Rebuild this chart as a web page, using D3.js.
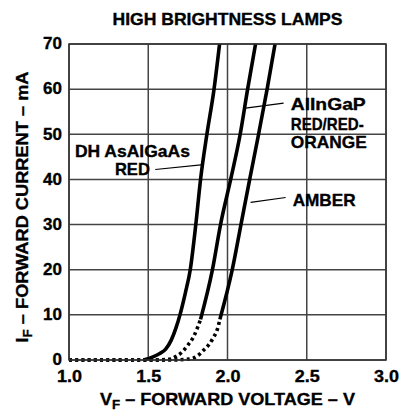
<!DOCTYPE html>
<html>
<head>
<meta charset="utf-8">
<script src="https://cdn.jsdelivr.net/npm/d3@7"></script>
<style>
  body { margin: 0; background: #fff; }
  text { font-family: "Liberation Sans", Arial, sans-serif; font-weight: bold; fill: #000; stroke: #000; stroke-width: 0.35px; }
</style>
</head>
<body>
<div id="chart"></div>
<script>
// axis ticks
const xTicks = [1.0, 1.5, 2.0, 2.5, 3.0];
const yTicks = [0, 10, 20, 30, 40, 50, 60, 70];

// DH AsAlGaAs red (solid all the way)
const redV = [1.47, 1.53, 1.57, 1.61, 1.645, 1.675, 1.70, 1.735, 1.765, 1.80, 1.83, 1.87, 1.915, 1.95];
const redI = [0, 0.7, 1.4, 2.4, 4.4, 7.1, 10, 15, 20, 30, 40, 50, 60, 70];

// AlInGaP red/red-orange: dotted low part, solid upper part
const ainLowV = [1.0, 1.55, 1.64, 1.68, 1.715, 1.75, 1.785, 1.81, 1.83];
const ainLowI = [0, 0, 0.2, 0.9, 1.8, 3.3, 5.1, 7.1, 9];
const ainHighV = [1.83, 1.905, 1.956, 2.02, 2.08, 2.127, 2.177];
const ainHighI = [9, 20, 30, 40, 50, 60, 70];

// AlInGaP amber
const ambLowV = [1.0, 1.65, 1.755, 1.81, 1.85, 1.88, 1.91, 1.935, 1.952];
const ambLowI = [0, 0, 0.2, 0.9, 2.2, 3.3, 4.9, 6.7, 9];
const ambHighV = [1.952, 2.03, 2.085, 2.14, 2.196, 2.25, 2.30];
const ambHighI = [9, 20, 30, 40, 50, 60, 70];

// curve labels, anchored in data units
const labelText = ['DH AsAlGaAs', 'RED', 'AlInGaP', 'RED/RED-', 'ORANGE', 'AMBER'];
const labelV = [1.40, 1.40, 2.399, 2.399, 2.399, 2.411];
const labelI = [45.0, 40.9, 55.3, 51.0, 47.0, 34.1];
const labelAnchor = ['middle', 'middle', 'start', 'start', 'start', 'start'];
const labelLen = [115, 35, 75, 73, 76, 63];

// leader lines [v1, i1, v2, i2]
const leaders = [
    [1.544, 42.2, 1.848, 43.3],
    [2.114, 55.8, 2.354, 56.9],
    [2.146, 34.9, 2.367, 36.0]
];

const margin = { top: 44, right: 15, bottom: 56, left: 69 };
const width = 401 - margin.left - margin.right;
const height = 416 - margin.top - margin.bottom;

const svg = d3.select('#chart')
    .append('svg')
    .attr('width', 401)
    .attr('height', 416);

const g = svg.append('g')
    .attr('transform', `translate(${margin.left},${margin.top})`);

const x = d3.scaleLinear().domain([1.0, 3.0]).range([0, width]);
const y = d3.scaleLinear().domain([0, 70]).range([height, 0]);

// grid
g.selectAll('.vgrid')
    .data(xTicks)
    .enter().append('line')
    .attr('x1', d => x(d)).attr('x2', d => x(d))
    .attr('y1', 0).attr('y2', height)
    .attr('stroke', '#444')
    .attr('stroke-width', 1.5);

g.selectAll('.hgrid')
    .data(yTicks)
    .enter().append('line')
    .attr('x1', 0).attr('x2', width)
    .attr('y1', d => y(d)).attr('y2', d => y(d))
    .attr('stroke', '#444')
    .attr('stroke-width', 1.5);

// tick labels via axes (no tick marks)
const xAxis = g.append('g')
    .attr('transform', `translate(0,${height})`)
    .call(d3.axisBottom(x).tickValues(xTicks).tickFormat(d3.format('.1f')).tickSize(0).tickPadding(10));
const yAxis = g.append('g')
    .call(d3.axisLeft(y).tickValues(yTicks).tickSize(0).tickPadding(7));

[xAxis, yAxis].forEach(a => {
    a.select('.domain').remove();
    a.selectAll('text')
        .attr('font-size', 17)
        .attr('font-family', '"Liberation Sans", Arial, sans-serif')
        .attr('font-weight', 'bold')
        .attr('fill', '#000');
});
xAxis.selectAll('text').attr('transform', 'scale(1.06,1)');
yAxis.selectAll('text').attr('dy', '0.28em');

// curves
const line = d3.line()
    .x(d => x(d[0]))
    .y(d => y(d[1]))
    .curve(d3.curveMonotoneX);

const zip = (a, b) => a.map((v, i) => [v, b[i]]);

const curves = [
    { pts: zip(ainLowV, ainLowI), dash: '3,3.2' },
    { pts: zip(ambLowV, ambLowI), dash: '3,3.2' },
    { pts: zip(redV, redI), dash: null },
    { pts: zip(ainHighV, ainHighI), dash: null },
    { pts: zip(ambHighV, ambHighI), dash: null }
];

g.selectAll('.curve')
    .data(curves)
    .enter().append('path')
    .attr('d', d => line(d.pts))
    .attr('fill', 'none')
    .attr('stroke', '#000')
    .attr('stroke-width', 3.6)
    .attr('stroke-dasharray', d => d.dash);

// frame
g.append('rect')
    .attr('width', width)
    .attr('height', height)
    .attr('fill', 'none')
    .attr('stroke', '#333')
    .attr('stroke-width', 1.5);

// leaders
g.selectAll('.leader')
    .data(leaders)
    .enter().append('line')
    .attr('x1', d => x(d[0])).attr('y1', d => y(d[1]))
    .attr('x2', d => x(d[2])).attr('y2', d => y(d[3]))
    .attr('stroke', '#000')
    .attr('stroke-width', 1.2);

// labels
g.selectAll('.lbl')
    .data(labelText)
    .enter().append('text')
    .attr('x', (d, i) => x(labelV[i]))
    .attr('y', (d, i) => y(labelI[i]))
    .attr('text-anchor', (d, i) => labelAnchor[i])
    .attr('font-size', 17)
    .attr('textLength', (d, i) => labelLen[i])
    .attr('lengthAdjust', 'spacingAndGlyphs')
    .text(d => d);

// title
svg.append('text')
    .attr('x', margin.left + width / 2)
    .attr('y', 25)
    .attr('text-anchor', 'middle')
    .attr('font-size', 16.5)
    .attr('textLength', 230)
    .attr('lengthAdjust', 'spacingAndGlyphs')
    .text('HIGH BRIGHTNESS LAMPS');

// x axis title
const xt = svg.append('text')
    .attr('x', margin.left + width / 2)
    .attr('y', 405)
    .attr('text-anchor', 'middle')
    .attr('font-size', 17)
    .attr('textLength', 255)
    .attr('lengthAdjust', 'spacingAndGlyphs');
xt.append('tspan').text('V');
xt.append('tspan').attr('font-size', 12.5).attr('dy', 4).text('F');
xt.append('tspan').attr('dy', -4).text(' – FORWARD VOLTAGE – V');

// y axis title
const yt = svg.append('text')
    .attr('transform', 'rotate(-90)')
    .attr('x', -(margin.top + height / 2) - 5)
    .attr('y', 28)
    .attr('text-anchor', 'middle')
    .attr('font-size', 17)
    .attr('textLength', 271)
    .attr('lengthAdjust', 'spacingAndGlyphs');
yt.append('tspan').text('I');
yt.append('tspan').attr('font-size', 12.5).attr('dy', 4).text('F');
yt.append('tspan').attr('dy', -4).text(' – FORWARD CURRENT – mA');
</script>
</body>
</html>
